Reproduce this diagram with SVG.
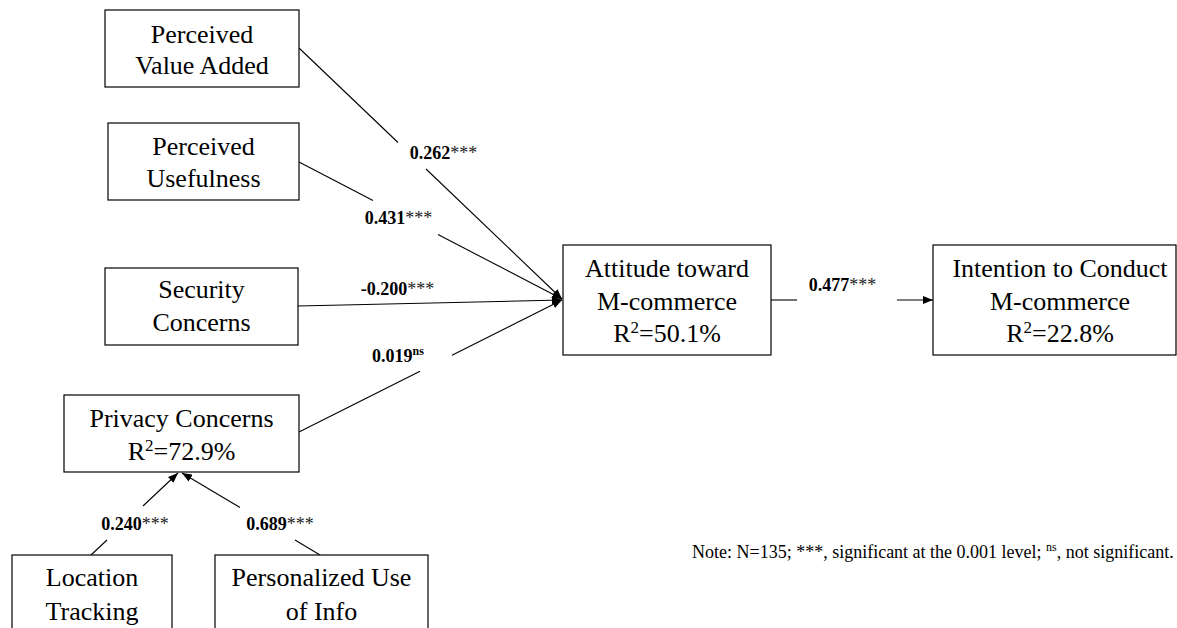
<svg xmlns="http://www.w3.org/2000/svg" width="1177" height="628" viewBox="0 0 1177 628">
<style>
.box{fill:#fff;stroke:#000;stroke-width:1.2}
.nt{font-family:"Liberation Serif","Times New Roman",serif;font-size:26px;fill:#000;text-anchor:middle}
.lb{font-family:"Liberation Serif","Times New Roman",serif;font-size:18px;font-weight:bold;fill:#000;text-anchor:middle}
.st{font-weight:normal;fill:#222}
.note{font-family:"Liberation Serif","Times New Roman",serif;font-size:18px;fill:#000}
.ln{stroke:#000;stroke-width:1.1;fill:none}
.ar{stroke:#000;stroke-width:1.1;fill:none;marker-end:url(#ah)}
</style>
<defs>
<marker id="ah" markerUnits="userSpaceOnUse" markerWidth="10" markerHeight="8" refX="10" refY="4" orient="auto">
<path d="M0,0 L10,4 L0,8 z" fill="#000"/>
</marker>
</defs>
<rect width="1177" height="628" fill="#fff"/>
<g id="connectors">
<line class="ln" x1="299" y1="48" x2="398" y2="142.5"/>
<line class="ar" x1="426" y1="169" x2="562" y2="299"/>
<line class="ln" x1="299" y1="162" x2="373" y2="200.5"/>
<line class="ar" x1="438" y1="234.5" x2="562" y2="299"/>
<line class="ar" x1="298" y1="306" x2="562" y2="300"/>
<line class="ln" x1="299" y1="432" x2="420" y2="371.3"/>
<line class="ar" x1="452" y1="355.2" x2="562" y2="300"/>
<line class="ln" x1="771" y1="300" x2="797" y2="300"/>
<line class="ar" x1="897" y1="300" x2="933" y2="300"/>
<line class="ln" x1="91" y1="555" x2="107" y2="540"/>
<line class="ar" x1="143" y1="506" x2="178" y2="473"/>
<line class="ln" x1="320" y1="555" x2="295" y2="540"/>
<line class="ar" x1="240" y1="507.5" x2="182" y2="473"/>
<text class="lb" x="443.5" y="159">0.262<tspan class="st">***</tspan></text>
<text class="lb" x="398.5" y="224">0.431<tspan class="st">***</tspan></text>
<text class="lb" x="397.5" y="295">-0.200<tspan class="st">***</tspan></text>
<text class="lb" x="398" y="362">0.019<tspan font-size="12" dy="-7">ns</tspan></text>
<text class="lb" x="135" y="530">0.240<tspan class="st">***</tspan></text>
<text class="lb" x="280" y="530">0.689<tspan class="st">***</tspan></text>
<text class="lb" x="842.5" y="291">0.477<tspan class="st">***</tspan></text>
</g>
<g id="pva">
<rect class="box" x="105" y="10" width="194" height="77"/>
<text class="nt" x="202" y="43">Perceived</text>
<text class="nt" x="202" y="74">Value Added</text>
</g>
<g id="pu">
<rect class="box" x="108" y="123" width="191" height="77"/>
<text class="nt" x="203.5" y="155">Perceived</text>
<text class="nt" x="203.5" y="187">Usefulness</text>
</g>
<g id="sc">
<rect class="box" x="105" y="268" width="193" height="77"/>
<text class="nt" x="201.5" y="298">Security</text>
<text class="nt" x="201.5" y="331">Concerns</text>
</g>
<g id="pc">
<rect class="box" x="64" y="395" width="235" height="77"/>
<text class="nt" x="181.5" y="427">Privacy Concerns</text>
<text class="nt" x="181.5" y="460">R<tspan font-size="17" dy="-9">2</tspan><tspan dy="9">=72.9%</tspan></text>
</g>
<g id="lt">
<rect class="box" x="12" y="555" width="160" height="90"/>
<text class="nt" x="92" y="586">Location</text>
<text class="nt" x="92" y="620">Tracking</text>
</g>
<g id="pui">
<rect class="box" x="215" y="555" width="213" height="90"/>
<text class="nt" x="321.5" y="586">Personalized Use</text>
<text class="nt" x="321.5" y="620">of Info</text>
</g>
<g id="att">
<rect class="box" x="563" y="245" width="208" height="110"/>
<text class="nt" x="667" y="277">Attitude toward</text>
<text class="nt" x="667" y="310">M-commerce</text>
<text class="nt" x="667" y="342">R<tspan font-size="17" dy="-9">2</tspan><tspan dy="9">=50.1%</tspan></text>
</g>
<g id="int">
<rect class="box" x="933" y="245" width="243" height="110"/>
<text class="nt" x="1060" y="277">Intention to Conduct</text>
<text class="nt" x="1060" y="310">M-commerce</text>
<text class="nt" x="1060" y="342">R<tspan font-size="17" dy="-9">2</tspan><tspan dy="9">=22.8%</tspan></text>
</g>
<g id="note">
<text class="note" x="692" y="558">Note: N=135; ***, significant at the 0.001 level; <tspan font-size="12" dy="-7">ns</tspan><tspan dy="7">, not significant.</tspan></text>
</g>
</svg>
